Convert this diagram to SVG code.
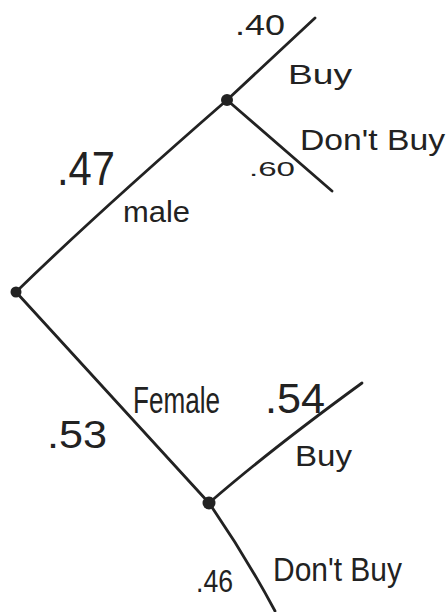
<svg xmlns="http://www.w3.org/2000/svg" width="448" height="612" viewBox="0 0 448 612">
<style>
.edge{fill:none;stroke:#222;stroke-width:2.8;stroke-linecap:round;stroke-linejoin:round}
.dot{fill:#222}
text{font-family:"Liberation Sans","DejaVu Sans",sans-serif;fill:#222}
</style>
<rect width="448" height="612" fill="#fff"/>
<g id="connectors">
<path class="edge" d="M16,292 Q95,215 227,100"/>
<path class="edge" d="M227,100 L315,18"/>
<path class="edge" d="M227,100 L332,191"/>
<path class="edge" d="M16,292 Q110,395 209,503"/>
<path class="edge" d="M209,503 Q270,450 362,383"/>
<path class="edge" d="M209,503 Q245,555 275,611"/>
</g>
<g id="root"><circle class="dot" cx="16" cy="292" r="5.5"/></g>
<g id="male-node"><circle class="dot" cx="227" cy="100" r="6"/></g>
<g id="female-node"><circle class="dot" cx="209" cy="503" r="6.5"/></g>
<g id="labels">
<text x="235" y="35" font-size="30" textLength="50" lengthAdjust="spacingAndGlyphs">.40</text>
<text x="288" y="84" font-size="28" textLength="64" lengthAdjust="spacingAndGlyphs">Buy</text>
<text x="300" y="150" font-size="29" textLength="145" lengthAdjust="spacingAndGlyphs">Don't Buy</text>
<text x="249" y="176" font-size="20" textLength="46" lengthAdjust="spacingAndGlyphs">.60</text>
<text x="57" y="185" font-size="48" textLength="58" lengthAdjust="spacingAndGlyphs">.47</text>
<text x="123" y="222" font-size="30" textLength="67" lengthAdjust="spacingAndGlyphs">male</text>
<text x="133" y="413" font-size="36" textLength="87" lengthAdjust="spacingAndGlyphs">Female</text>
<text x="265" y="413" font-size="42" textLength="60" lengthAdjust="spacingAndGlyphs">.54</text>
<text x="47" y="448" font-size="38" textLength="60" lengthAdjust="spacingAndGlyphs">.53</text>
<text x="295" y="466" font-size="30" textLength="57" lengthAdjust="spacingAndGlyphs">Buy</text>
<text x="273" y="581" font-size="33" textLength="129" lengthAdjust="spacingAndGlyphs">Don't Buy</text>
<text x="196" y="592" font-size="32" textLength="37" lengthAdjust="spacingAndGlyphs">.46</text>
</g>
</svg>
